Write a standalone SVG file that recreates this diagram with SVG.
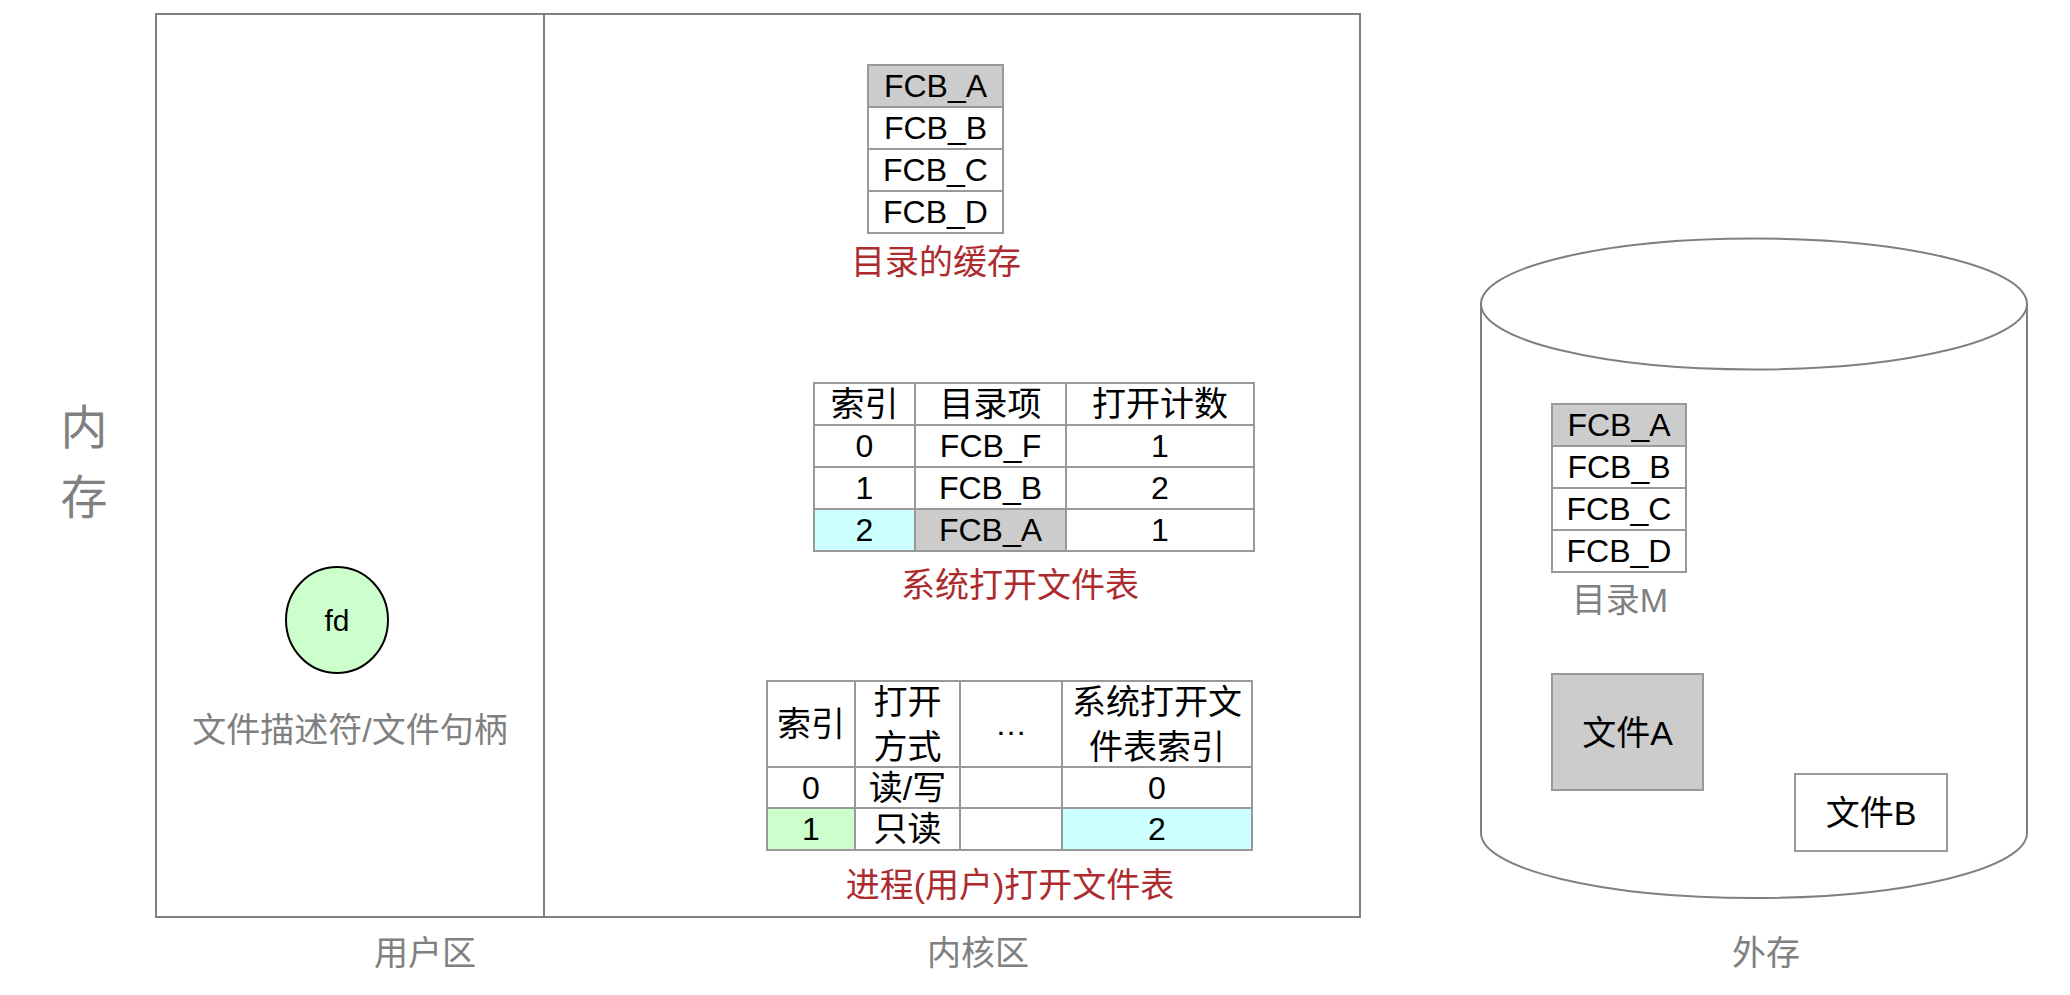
<svg xmlns="http://www.w3.org/2000/svg" width="2070" height="995" viewBox="0 0 2070 995">
<style>
text{font-family:"Liberation Sans","Noto Sans CJK SC",sans-serif;font-size:32px;text-anchor:middle;dominant-baseline:central;fill:#000}
.cj{font-size:34px}
.lbl{fill:#808080}
.red{fill:#AD2B2E}
.cell{stroke:#999999;stroke-width:2;fill:#ffffff}
.gray{fill:#CCCCCC}
.cyan{fill:#CCFFFF}
.green{fill:#CCFFCC}
.frame{fill:none;stroke:#808080;stroke-width:2}
</style>
<rect width="2070" height="995" fill="#ffffff"/>
<g id="memory-frame">
<rect class="frame" x="156" y="14" width="1204" height="903"/>
<line class="frame" x1="544" y1="14" x2="544" y2="917"/>
<text class="lbl" x="84" y="427" style="font-size:47px">内</text>
<text class="lbl" x="84" y="497" style="font-size:47px">存</text>
<text class="lbl cj" x="425" y="953">用户区</text>
<text class="lbl cj" x="978" y="953">内核区</text>
</g>
<g id="fd">
<ellipse cx="337" cy="620" rx="51" ry="53" fill="#CCFFCC" stroke="#000" stroke-width="2"/>
<text x="337" y="620" style="font-size:30px">fd</text>
<text class="lbl cj" x="350" y="730">文件描述符/文件句柄</text>
</g>
<g id="dir-cache">
<rect class="cell gray" x="868" y="65" width="135" height="42"/>
<rect class="cell" x="868" y="107" width="135" height="42"/>
<rect class="cell" x="868" y="149" width="135" height="42"/>
<rect class="cell" x="868" y="191" width="135" height="42"/>
<text x="935.5" y="86">FCB_A</text>
<text x="935.5" y="128">FCB_B</text>
<text x="935.5" y="170">FCB_C</text>
<text x="935.5" y="212">FCB_D</text>
<text class="red cj" x="936" y="262">目录的缓存</text>
</g>
<g id="sys-open-table">
<rect class="cell" x="814" y="383" width="101" height="42"/>
<rect class="cell" x="915" y="383" width="151" height="42"/>
<rect class="cell" x="1066" y="383" width="188" height="42"/>
<rect class="cell" x="814" y="425" width="101" height="42"/>
<rect class="cell" x="915" y="425" width="151" height="42"/>
<rect class="cell" x="1066" y="425" width="188" height="42"/>
<rect class="cell" x="814" y="467" width="101" height="42"/>
<rect class="cell" x="915" y="467" width="151" height="42"/>
<rect class="cell" x="1066" y="467" width="188" height="42"/>
<rect class="cell cyan" x="814" y="509" width="101" height="42"/>
<rect class="cell gray" x="915" y="509" width="151" height="42"/>
<rect class="cell" x="1066" y="509" width="188" height="42"/>
<text class="cj" x="864.5" y="404">索引</text>
<text class="cj" x="990.5" y="404">目录项</text>
<text class="cj" x="1160" y="404">打开计数</text>
<text x="864.5" y="446">0</text>
<text x="990.5" y="446">FCB_F</text>
<text x="1160" y="446">1</text>
<text x="864.5" y="488">1</text>
<text x="990.5" y="488">FCB_B</text>
<text x="1160" y="488">2</text>
<text x="864.5" y="530">2</text>
<text x="990.5" y="530">FCB_A</text>
<text x="1160" y="530">1</text>
<text class="red cj" x="1020" y="585">系统打开文件表</text>
</g>
<g id="proc-open-table">
<rect class="cell" x="767" y="681" width="88" height="86"/>
<rect class="cell" x="855" y="681" width="105" height="86"/>
<rect class="cell" x="960" y="681" width="102" height="86"/>
<rect class="cell" x="1062" y="681" width="190" height="86"/>
<rect class="cell" x="767" y="767" width="88" height="41"/>
<rect class="cell" x="855" y="767" width="105" height="41"/>
<rect class="cell" x="960" y="767" width="102" height="41"/>
<rect class="cell" x="1062" y="767" width="190" height="41"/>
<rect class="cell green" x="767" y="808" width="88" height="42"/>
<rect class="cell" x="855" y="808" width="105" height="42"/>
<rect class="cell" x="960" y="808" width="102" height="42"/>
<rect class="cell cyan" x="1062" y="808" width="190" height="42"/>
<text class="cj" x="811" y="724">索引</text>
<text class="cj" x="907.5" y="702">打开</text>
<text class="cj" x="907.5" y="747">方式</text>
<text x="1011" y="724">…</text>
<text class="cj" x="1157" y="702">系统打开文</text>
<text class="cj" x="1157" y="747">件表索引</text>
<text x="811" y="787.5">0</text>
<text class="cj" x="907.5" y="787.5">读/写</text>
<text x="1157" y="787.5">0</text>
<text x="811" y="829">1</text>
<text class="cj" x="907.5" y="829">只读</text>
<text x="1157" y="829">2</text>
<text class="red cj" x="1010" y="885">进程(用户)打开文件表</text>
</g>
<g id="disk">
<path class="frame" d="M1481,304 L1481,833 A273,65 0 0 0 2027,833 L2027,304" fill="#ffffff"/>
<ellipse class="frame" cx="1754" cy="304" rx="273" ry="65.5"/>
<text class="lbl cj" x="1766" y="953">外存</text>
</g>
<g id="dir-m">
<rect class="cell gray" x="1552" y="404" width="134" height="42"/>
<rect class="cell" x="1552" y="446" width="134" height="42"/>
<rect class="cell" x="1552" y="488" width="134" height="42"/>
<rect class="cell" x="1552" y="530" width="134" height="42"/>
<text x="1619" y="425">FCB_A</text>
<text x="1619" y="467">FCB_B</text>
<text x="1619" y="509">FCB_C</text>
<text x="1619" y="551">FCB_D</text>
<text class="lbl cj" x="1620" y="600">目录M</text>
</g>
<g id="file-a">
<rect class="cell gray" x="1552" y="674" width="151" height="116"/>
<text class="cj" x="1627.5" y="733">文件A</text>
</g>
<g id="file-b">
<rect class="cell" x="1795" y="774" width="152" height="77"/>
<text class="cj" x="1871" y="813">文件B</text>
</g>
<g id="connectors"/>
</svg>
